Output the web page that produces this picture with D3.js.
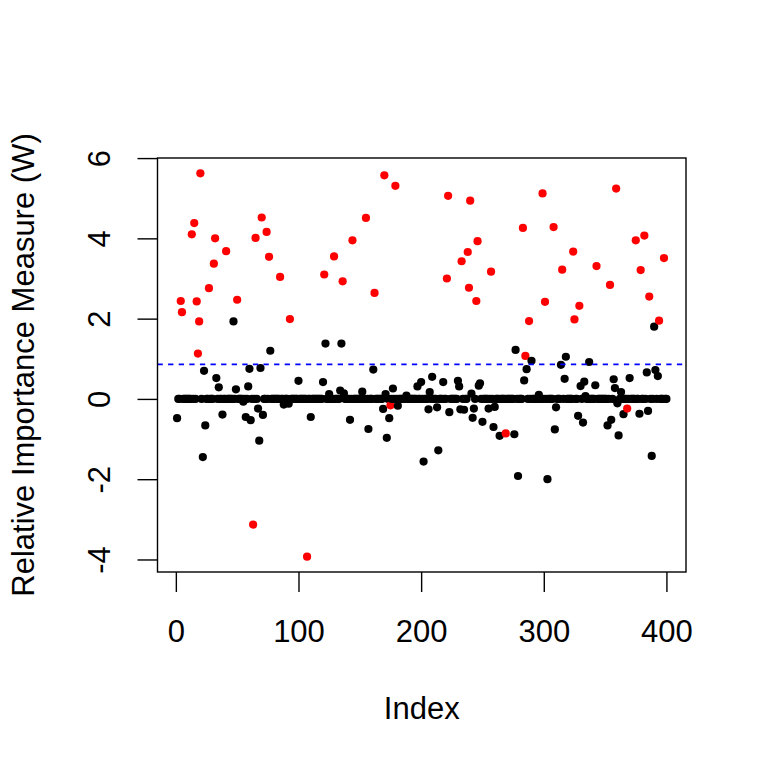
<!DOCTYPE html>
<html>
<head>
<meta charset="utf-8">
<script src="https://cdn.jsdelivr.net/npm/d3@7"></script>
<style>
	html, body { margin: 0; padding: 0; background: #fff; }
	svg { display: block; font-family: 'Liberation Sans', Arial, Helvetica, sans-serif; }
</style>
</head>
<body>
<div id="chart"></div>
<script>
// 400 indices; red = "important" variables, black = the rest.
// any index not listed below sits on 0
const N_POINTS = 400;

const redIndex = [4, 5, 13, 15, 17, 18, 19, 20, 27, 31, 32, 41, 50, 63, 65, 70, 74, 76, 85, 93,
	107, 121, 129, 136, 144, 155, 162, 170, 175, 179, 221, 222, 233, 238, 239, 240, 245, 246, 257, 269,
	283, 285, 288, 299, 301, 308, 315, 324, 325, 329, 343, 354, 359, 368, 375, 379, 382, 386, 394, 398];
const redValue = [2.44, 2.16, 4.10, 4.38, 2.43, 1.13, 1.93, 5.62, 2.76, 3.37, 4.00, 3.68, 2.47, -3.13, 4.01, 4.52, 4.16, 3.54, 3.04, 1.99,
	-3.93, 3.10, 3.55, 2.93, 3.95, 4.51, 2.64, 5.57, -0.16, 5.31, 3.00, 5.06, 3.43, 3.66, 2.77, 4.94, 2.44, 3.93, 3.17, -0.86,
	4.26, 1.07, 1.94, 5.12, 2.42, 4.28, 3.22, 3.67, 1.98, 2.32, 3.31, 2.84, 5.24, -0.24, 3.95, 3.21, 4.07, 2.55, 1.95, 3.51];

const blackIndex = [1, 22, 23, 24, 33, 35, 38, 47, 49, 55, 57, 59, 60, 61, 67, 68, 69, 71, 77, 88,
	92, 100, 110, 120, 122, 125, 134, 135, 137, 142, 152, 157, 161, 169, 171, 172, 174, 177, 181, 188,
	197, 200, 202, 206, 207, 209, 213, 214, 218, 223, 230, 231, 232, 235, 241, 242, 243, 247, 248, 250,
	255, 259, 260, 264, 276, 277, 279, 284, 286, 290, 296, 303, 309, 310, 314, 317, 318, 328, 330, 332,
	333, 334, 337, 342, 352, 355, 357, 358, 360, 361, 363, 365, 370, 378, 384, 385, 388, 390, 391, 393];
const blackValue = [-0.48, -1.45, 0.70, -0.66, 0.52, 0.29, -0.39, 1.93, 0.24, -0.07, -0.45, 0.31, 0.75, -0.53, -0.24, -1.04, 0.77, -0.40, 1.20, -0.14,
	-0.12, 0.45, -0.45, 0.42, 1.38, 0.12, 0.21, 1.38, 0.14, -0.52, 0.18, -0.75, 0.73, -0.25, 0.12, -0.97, -0.48, 0.26, -0.17, 0.08,
	0.31, 0.42, -1.56, -0.26, 0.17, 0.55, -0.21, -1.28, 0.42, -0.33, 0.45, 0.31, -0.26, -0.27, 0.13, -0.47, -0.24, 0.33, 0.39, -0.57,
	-0.24, -0.70, -0.20, -0.92, -0.88, 1.22, -1.92, 0.46, 0.74, 0.95, 0.10, -2.00, -0.76, -0.21, 0.85, 0.50, 1.05, -0.42, 0.32, -0.59,
	0.43, 0.07, 0.92, 0.34, -0.66, -0.52, 0.49, 0.27, -0.11, -0.91, 0.17, -0.38, 0.52, -0.37, 0.66, -0.30, -1.42, 1.80, 0.72, 0.57];

const threshold = 0.86;

const xTicks = [0, 100, 200, 300, 400];
const yTicks = [-4, -2, 0, 2, 4, 6];
const xLabel = 'Index';
const yLabel = 'Relative Importance Measure (W)';

const WIDTH = 768;
const HEIGHT = 768;
const MARGIN = { top: 158, right: 82, bottom: 196, left: 157.5 };
const FONT_SIZE = 31;
const TICK = 20;

// build the full series
const lookup = new Map();
blackIndex.forEach((d, i) => lookup.set(d, { value: blackValue[i], red: false }));
redIndex.forEach((d, i) => lookup.set(d, { value: redValue[i], red: true }));
const points = d3.range(1, N_POINTS + 1).map(i => {
	const p = lookup.get(i);
	return { index: i, value: p ? p.value : 0, red: p ? p.red : false };
});

// R style axis limits: data range + 4% each side
function pad(ext) {
	const r = ext[1] - ext[0];
	return [ext[0] - r * 0.04, ext[1] + r * 0.04];
}

const scaleX = d3.scaleLinear()
	.domain(pad(d3.extent(points, d => d.index)))
	.range([MARGIN.left, WIDTH - MARGIN.right]);
const scaleY = d3.scaleLinear()
	.domain(pad(d3.extent(points, d => d.value)))
	.range([HEIGHT - MARGIN.bottom, MARGIN.top]);

const $svg = d3.select('#chart').append('svg')
	.attr('width', WIDTH)
	.attr('height', HEIGHT);

$svg.append('rect')
	.attr('width', WIDTH)
	.attr('height', HEIGHT)
	.attr('fill', '#fff');

// points, in index order like plot()
$svg.append('g').attr('class', 'g-points')
	.selectAll('circle')
	.data(points)
	.join('circle')
	.attr('cx', d => scaleX(d.index))
	.attr('cy', d => scaleY(d.value))
	.attr('r', 4.1)
	.attr('fill', d => (d.red ? '#ff0000' : '#000'));

// threshold line (abline, clipped to plot region)
$svg.append('line')
	.attr('x1', scaleX.range()[0])
	.attr('x2', scaleX.range()[1])
	.attr('y1', scaleY(threshold))
	.attr('y2', scaleY(threshold))
	.attr('stroke', '#0000ff')
	.attr('stroke-width', 1.6)
	.attr('stroke-dasharray', '5.3,5.3');

// box
$svg.append('rect')
	.attr('x', MARGIN.left)
	.attr('y', MARGIN.top)
	.attr('width', WIDTH - MARGIN.left - MARGIN.right)
	.attr('height', HEIGHT - MARGIN.top - MARGIN.bottom)
	.attr('fill', 'none')
	.attr('stroke', '#000')
	.attr('stroke-width', 1.4);

// axes
const $xAxis = $svg.append('g')
	.attr('transform', `translate(0,${HEIGHT - MARGIN.bottom})`)
	.call(d3.axisBottom(scaleX).tickValues(xTicks).tickSize(TICK).tickFormat(d3.format('d')));
const $yAxis = $svg.append('g')
	.attr('transform', `translate(${MARGIN.left},0)`)
	.call(d3.axisLeft(scaleY).tickValues(yTicks).tickSize(TICK).tickFormat(d => (d < 0 ? '-' : '') + Math.abs(d)));

[$xAxis, $yAxis].forEach($a => {
	$a.select('.domain').remove();
	$a.selectAll('.tick line').attr('stroke', '#000').attr('stroke-width', 1.4);
	$a.selectAll('.tick text')
		.attr('fill', '#000')
		.style('font-size', `${FONT_SIZE}px`)
		.style('font-family', "'Liberation Sans', Arial, Helvetica, sans-serif");
});

$xAxis.selectAll('.tick text')
	.attr('y', 70)
	.attr('dy', null);

$yAxis.selectAll('.tick text')
	.attr('x', 0)
	.attr('y', -47.5)
	.attr('dy', null)
	.attr('text-anchor', 'middle')
	.attr('transform', 'rotate(-90)');

// axis titles
$svg.append('text')
	.attr('x', (MARGIN.left + WIDTH - MARGIN.right) / 2)
	.attr('y', 719)
	.attr('text-anchor', 'middle')
	.style('font-size', `${FONT_SIZE}px`)
	.text(xLabel);

$svg.append('text')
	.attr('transform', `translate(33.5,${(MARGIN.top + HEIGHT - MARGIN.bottom) / 2}) rotate(-90)`)
	.attr('text-anchor', 'middle')
	.style('font-size', `${FONT_SIZE}px`)
	.text(yLabel);
</script>
</body>
</html>
